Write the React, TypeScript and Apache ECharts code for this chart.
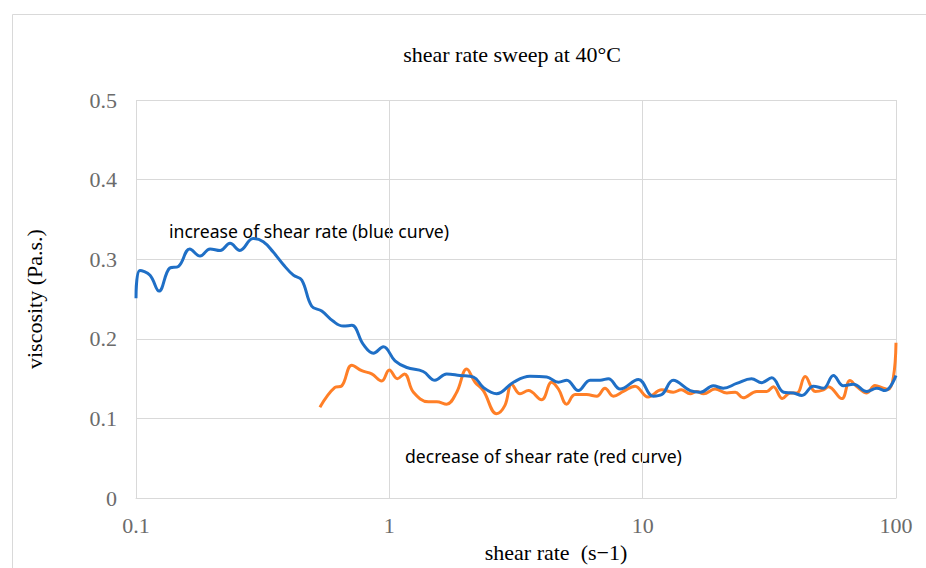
import React, { useEffect, useRef } from "react";
import * as echarts from "echarts";

const blueX = [0.1, 0.1036, 0.1136, 0.1233, 0.136, 0.147, 0.163, 0.179, 0.196, 0.215, 0.235, 0.257, 0.29, 0.318, 0.348, 0.382, 0.418, 0.451, 0.494, 0.541, 0.601, 0.658, 0.711, 0.789, 0.865, 0.947, 1.053, 1.172, 1.36, 1.514, 1.683, 1.9, 2.15, 2.35, 2.65, 3.09, 3.59, 4.18, 4.65, 5.02, 5.57, 6.2, 6.79, 7.32, 8.15, 9.62, 11.0, 11.9, 13.2, 15.4, 16.9, 19.0, 20.8, 23.5, 26.9, 29.5, 32.3, 36.0, 39.4, 42.5, 47.2, 51.7, 56.6, 62.0, 67.9, 76.7, 84.0, 90.6, 100];
const blueY = [0.251, 0.286, 0.28, 0.26, 0.289, 0.291, 0.313, 0.304, 0.313, 0.311, 0.32, 0.311, 0.326, 0.322, 0.309, 0.293, 0.28, 0.274, 0.241, 0.235, 0.222, 0.216, 0.217, 0.193, 0.182, 0.19, 0.1725, 0.164, 0.159, 0.148, 0.156, 0.154, 0.152, 0.139, 0.131, 0.1455, 0.153, 0.152, 0.1455, 0.148, 0.135, 0.148, 0.148, 0.15, 0.137, 0.149, 0.128, 0.13, 0.148, 0.135, 0.133, 0.141, 0.138, 0.144, 0.15, 0.145, 0.151, 0.133, 0.132, 0.129, 0.1405, 0.138, 0.154, 0.141, 0.143, 0.134, 0.138, 0.135, 0.154];

const orangeX = [0.532, 0.61, 0.649, 0.711, 0.778, 0.852, 0.933, 1.0, 1.076, 1.147, 1.245, 1.426, 1.539, 1.683, 1.845, 2.02, 2.18, 2.35, 2.65, 2.86, 3.04, 3.28, 3.54, 3.99, 4.37, 4.65, 5.01, 5.41, 6.01, 6.59, 7.1, 7.66, 8.39, 9.33, 10.5, 11.9, 13.2, 14.2, 15.4, 16.3, 17.4, 19.3, 21.5, 23.2, 24.9, 28.2, 30.9, 32.8, 35.6, 38.2, 40.6, 43.8, 48.0, 51.7, 54.1, 61.1, 65.8, 70.0, 76.7, 82.6, 89.2, 93.3, 97.7, 100];
const orangeY = [0.114, 0.139, 0.141, 0.167, 0.16, 0.156, 0.147, 0.161, 0.15, 0.156, 0.133, 0.121, 0.121, 0.118, 0.133, 0.162, 0.1455, 0.135, 0.106, 0.1165, 0.143, 0.131, 0.135, 0.1235, 0.1455, 0.137, 0.118, 0.13, 0.13, 0.128, 0.138, 0.128, 0.134, 0.1405, 0.127, 0.136, 0.133, 0.136, 0.131, 0.134, 0.131, 0.137, 0.132, 0.133, 0.126, 0.134, 0.134, 0.14, 0.125, 0.132, 0.132, 0.1526, 0.134, 0.136, 0.14, 0.125, 0.1476, 0.14, 0.132, 0.1414, 0.138, 0.1365, 0.152, 0.195];

const titleText = "shear rate sweep at 40°C";
const xName = "shear rate  (s−1)";
const yName = "viscosity (Pa.s.)";
const noteBlue = "increase of shear rate (blue curve)";
const noteRed = "decrease of shear rate (red curve)";

const SERIF = "'Liberation Serif', 'Times New Roman', serif";
const SANS = "'Noto Sans', 'Open Sans', sans-serif";

export default function App() {
  const ref = useRef<HTMLDivElement>(null);
  useEffect(() => {
    if (!ref.current) return;
    const chart = echarts.init(ref.current, undefined, { renderer: "svg" });
    const fmt = (v: number) => String(Math.round(v * 1000) / 1000);
    chart.setOption({
      animation: false,
      backgroundColor: "#ffffff",
      grid: { left: 136, width: 760, top: 100, height: 402, containLabel: false },
      xAxis: {
        type: "log",
        logBase: 10,
        min: 0.1,
        max: 100,
        name: xName,
        nameLocation: "middle",
        nameGap: 35,
        nameTextStyle: { fontFamily: SERIF, fontSize: 22, color: "#000", padding: [0, 0, 0, 80] },
        axisLine: { show: true, lineStyle: { color: "#d9d9d9", width: 1 } },
        axisTick: { show: false },
        minorTick: { show: false },
        axisLabel: { formatter: fmt, fontFamily: SERIF, fontSize: 22, color: "#6b6b6b", margin: 16 },
        splitLine: { show: true, lineStyle: { color: "#d9d9d9", width: 1 } },
      },
      yAxis: {
        type: "value",
        min: 0,
        max: 0.5,
        interval: 0.1,
        name: yName,
        nameLocation: "middle",
        nameGap: 91,
        nameTextStyle: { fontFamily: SERIF, fontSize: 22, color: "#000" },
        axisLine: { show: false },
        axisTick: { show: false },
        axisLabel: { formatter: fmt, fontFamily: SERIF, fontSize: 22, color: "#6b6b6b", margin: 19 },
        splitLine: { show: true, lineStyle: { color: "#d9d9d9", width: 1 } },
      },
      series: [
        {
          name: "increase",
          type: "line",
          data: blueX.map((x, i) => [x, blueY[i]]),
          showSymbol: false,
          symbol: "none",
          smooth: 0.4,
          lineStyle: { color: "#1f6fc6", width: 3 },
          itemStyle: { color: "#1f6fc6" },
          z: 3,
        },
        {
          name: "decrease",
          type: "line",
          data: orangeX.map((x, i) => [x, orangeY[i]]),
          showSymbol: false,
          symbol: "none",
          smooth: 0.4,
          lineStyle: { color: "#ff7f27", width: 3 },
          itemStyle: { color: "#ff7f27" },
          z: 2,
        },
      ],
      graphic: [
        {
          type: "rect",
          shape: { x: 12.5, y: 14.5, width: 1000, height: 700 },
          style: { fill: "none", stroke: "#d9d9d9", lineWidth: 1 },
          silent: true,
          z: -1,
        },
        {
          type: "text",
          x: 512,
          y: 54,
          style: { text: titleText, fontFamily: SERIF, fontSize: 22, fill: "#000", align: "center", verticalAlign: "middle" },
        },
        {
          type: "text",
          x: 169,
          y: 231,
          style: { text: noteBlue, fontFamily: SANS, fontSize: 17.6, fill: "#000", align: "left", verticalAlign: "middle" },
        },
        {
          type: "text",
          x: 405,
          y: 456,
          style: { text: noteRed, fontFamily: SANS, fontSize: 17.6, fill: "#000", align: "left", verticalAlign: "middle" },
        },
      ],
    });
    return () => chart.dispose();
  }, []);
  return (
    <div
      ref={ref}
      style={{ position: "fixed", left: 0, top: 0, width: 926, height: 568, background: "#fff" }}
    />
  );
}
